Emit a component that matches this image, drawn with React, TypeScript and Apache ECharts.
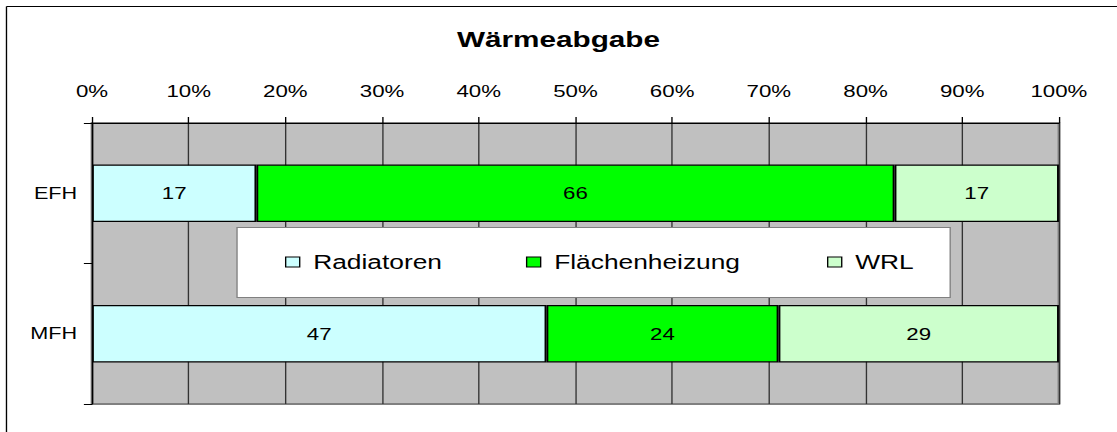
import React, { useEffect, useRef } from "react";
import * as echarts from "echarts";

const categories = ["EFH", "MFH"];
const seriesNames = ["Radiatoren", "Flächenheizung", "WRL"];
const radiatoren = [17, 47];
const flaechenheizung = [66, 24];
const wrl = [17, 29];
const seriesColors = ["#CCFFFF", "#00FF00", "#CCFFCC"];

const BASE_W = 827;
const H = 432;
const SCALE_X = 1117 / BASE_W;
const FONT = "'Liberation Sans', Arial, sans-serif";

export default function App() {
  const ref = useRef<HTMLDivElement>(null);

  useEffect(() => {
    if (!ref.current) return;
    const chart = echarts.init(ref.current, null, { renderer: "svg" });
    const values = [radiatoren, flaechenheizung, wrl];
    const legendLefts = [211, 389.4, 612.3];

    const option: any = {
      animation: false,
      backgroundColor: "#ffffff",
      textStyle: { fontFamily: FONT, color: "#000" },
      title: {
        text: "Wärmeabgabe",
        left: "center",
        top: 28.5,
        padding: 0,
        textStyle: { fontFamily: FONT, fontSize: 22, fontWeight: "bold", color: "#000" },
      },
      legend: seriesNames.map((name, i) => ({
        data: [name],
        left: legendLefts[i],
        top: 252,
        padding: 0,
        z: 20,
        orient: "horizontal",
        selectedMode: false,
        icon: "rect",
        itemWidth: 10.4,
        itemHeight: 10,
        itemStyle: { borderColor: "#000", borderWidth: 1 },
        textStyle: { fontFamily: FONT, fontSize: 19.5, color: "#000", padding: [0, 0, 0, 5] },
      })),
      grid: {
        left: 68.1,
        right: 43,
        top: 123,
        bottom: 28,
        show: true,
        backgroundColor: "#C0C0C0",
        borderColor: "#808080",
        borderWidth: 2,
      },
      xAxis: {
        type: "value",
        position: "top",
        min: 0,
        max: 100,
        interval: 10,
        axisLine: { show: true, lineStyle: { color: "#000", width: 1 } },
        axisTick: { show: true, length: 6, lineStyle: { color: "#000" } },
        axisLabel: {
          formatter: "{value}%",
          margin: 23,
          fontFamily: FONT,
          fontSize: 16.5,
          color: "#000",
        },
        splitLine: { show: true, lineStyle: { color: "#333", width: 1 } },
      },
      yAxis: {
        type: "category",
        inverse: true,
        data: categories,
        axisLine: { show: true, lineStyle: { color: "#000", width: 1 } },
        axisTick: { show: true, length: 6, lineStyle: { color: "#000" } },
        axisLabel: { margin: 11, fontFamily: FONT, fontSize: 16, color: "#000" },
        splitLine: { show: false },
      },
      series: seriesNames.map((name, i) => ({
        name,
        type: "bar",
        stack: "total",
        barCategoryGap: "59%",
        data: values[i],
        itemStyle: { color: seriesColors[i], borderColor: "#000", borderWidth: 1.4 },
        label: {
          show: true,
          position: "inside",
          color: "#000",
          fontFamily: FONT,
          fontSize: 16.5,
        },
      })),
      graphic: [
        {
          type: "line",
          z: 10,
          shape: { x1: 4.8, y1: 6.5, x2: BASE_W, y2: 6.5 },
          style: { stroke: "#000", lineWidth: 1 },
        },
        {
          type: "line",
          z: 10,
          shape: { x1: 4.8, y1: 6.5, x2: 4.8, y2: H },
          style: { stroke: "#000", lineWidth: 1 },
        },
        {
          type: "rect",
          z: 5,
          shape: { x: 175.5, y: 227.5, width: 528, height: 70 },
          style: { fill: "#ffffff", stroke: "#808080", lineWidth: 1 },
        },
      ],
    };
    chart.setOption(option);
    return () => chart.dispose();
  }, []);

  return (
    <div
      ref={ref}
      style={{
        position: "absolute",
        left: 0,
        top: 0,
        width: BASE_W,
        height: H,
        transform: `scaleX(${SCALE_X})`,
        transformOrigin: "0 0",
      }}
    />
  );
}
